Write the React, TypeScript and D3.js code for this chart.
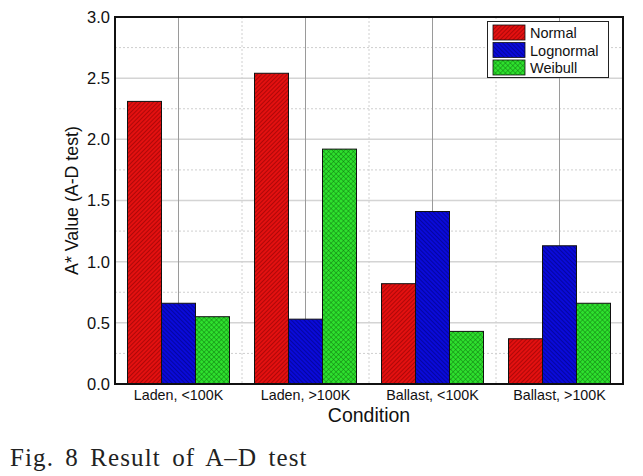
import React from "react";
import * as d3 from "d3";

const categories = ["Laden, <100K", "Laden, >100K", "Ballast, <100K", "Ballast, >100K"];
const seriesNames = ["Normal", "Lognormal", "Weibull"];
const normalValues = [2.31, 2.54, 0.82, 0.37];
const lognormalValues = [0.66, 0.53, 1.41, 1.13];
const weibullValues = [0.55, 1.92, 0.43, 0.66];
const yTicks = [0, 0.5, 1.0, 1.5, 2.0, 2.5, 3.0];
const yMinorTicks = [0.25, 0.75, 1.25, 1.75, 2.25, 2.75];

const W = 643;
const H = 476;
const M = { left: 115, top: 17, right: 623, bottom: 384 };

export default function App() {
  const x = d3.scaleBand<string>().domain(categories).range([M.left, M.right]).paddingInner(0).paddingOuter(0);
  const inner = d3.scaleBand<string>().domain(seriesNames).range([12.5, x.bandwidth() - 12.5]).padding(0);
  const y = d3.scaleLinear().domain([0, 3]).range([M.bottom, M.top]);
  const seriesValues = [normalValues, lognormalValues, weibullValues];
  const fills = ["url(#patNormal)", "url(#patLog)", "url(#patWei)"];
  const font = "Arial, 'Liberation Sans', sans-serif";

  const boundaries = categories.slice(1).map((c) => x(c) as number);

  return (
    <svg width={W} height={H} style={{ position: "absolute", left: 0, top: 0, background: "#fff" }}>
      <defs>
        <pattern id="patNormal" patternUnits="userSpaceOnUse" width={3} height={3} patternTransform="rotate(45)">
          <rect width={3} height={3} fill="#e31010" />
          <line x1={0} y1={0} x2={0} y2={3} stroke="#7a0000" strokeWidth={1} />
        </pattern>
        <pattern id="patLog" patternUnits="userSpaceOnUse" width={3} height={3} patternTransform="rotate(-45)">
          <rect width={3} height={3} fill="#0a0ad8" />
          <line x1={0} y1={0} x2={0} y2={3} stroke="#00006a" strokeWidth={1} />
        </pattern>
        <pattern id="patWei" patternUnits="userSpaceOnUse" width={3.5} height={3.5} patternTransform="rotate(45)">
          <rect width={3.5} height={3.5} fill="#2ee02e" />
          <line x1={0} y1={0} x2={0} y2={3.5} stroke="#0b6a0b" strokeWidth={0.8} />
          <line x1={0} y1={0} x2={3.5} y2={0} stroke="#0b6a0b" strokeWidth={0.8} />
        </pattern>
      </defs>

      {yMinorTicks.map((t) => (
        <line key={"mh" + t} x1={M.left} x2={M.right} y1={y(t)} y2={y(t)} stroke="#cfcfcf" strokeWidth={1} strokeDasharray="2,2" />
      ))}
      {yTicks.slice(1, -1).map((t) => (
        <line key={"h" + t} x1={M.left} x2={M.right} y1={y(t)} y2={y(t)} stroke="#d4d4d4" strokeWidth={1.5} />
      ))}
      {boundaries.map((b) => (
        <line key={"vb" + b} x1={b} x2={b} y1={M.top} y2={M.bottom} stroke="#d0d0d0" strokeWidth={1} strokeDasharray="2,2" />
      ))}
      {categories.map((c) => {
        const cx = (x(c) as number) + x.bandwidth() / 2;
        return <line key={"vc" + c} x1={cx} x2={cx} y1={M.top} y2={M.bottom} stroke="#9a9a9a" strokeWidth={1} />;
      })}

      {categories.map((c, ci) => (
        <g key={"g" + c} transform={`translate(${x(c)},0)`}>
          {seriesNames.map((s, si) => {
            const v = seriesValues[si][ci];
            return (
              <rect
                key={s}
                x={inner(s) as number}
                y={y(v)}
                width={inner.bandwidth()}
                height={y(0) - y(v)}
                fill={fills[si]}
                stroke="#111"
                strokeWidth={1}
              />
            );
          })}
        </g>
      ))}

      <rect x={M.left} y={M.top} width={M.right - M.left} height={M.bottom - M.top} fill="none" stroke="#111" strokeWidth={2} />

      {yTicks.map((t) => (
        <text key={"yt" + t} x={M.left - 5} y={y(t)} dy="0.36em" textAnchor="end" fontFamily={font} fontSize={16.5} fill="#111">
          {d3.format(".1f")(t)}
        </text>
      ))}
      {categories.map((c) => (
        <text key={"xt" + c} x={(x(c) as number) + x.bandwidth() / 2} y={400} textAnchor="middle" fontFamily={font} fontSize={14.3} fill="#111">
          {c}
        </text>
      ))}

      <text x={(M.left + M.right) / 2} y={422} textAnchor="middle" fontFamily={font} fontSize={19.5} fill="#111">
        Condition
      </text>
      <text
        transform={`translate(78,${(M.top + M.bottom) / 2}) rotate(-90)`}
        textAnchor="middle"
        fontFamily={font}
        fontSize={17.8}
        fill="#111"
      >
        A* Value (A-D test)
      </text>

      <g>
        <rect x={487.5} y={21.5} width={121} height={56} fill="#fff" stroke="#222" strokeWidth={1} />
        {seriesNames.map((s, i) => (
          <g key={"lg" + s} transform={`translate(493,${25 + i * 17.5})`}>
            <rect x={0} y={0} width={32} height={15} fill={fills[i]} stroke="#111" strokeWidth={0.8} />
            <text x={37} y={13} fontFamily={font} fontSize={14.5} fill="#111">
              {s}
            </text>
          </g>
        ))}
      </g>

      <text x={10} y={466} fontFamily="'Liberation Serif', 'DejaVu Serif', serif" fontSize={25} fill="#222" letterSpacing={1.1} wordSpacing={4}>
        Fig. 8 Result of A–D test
      </text>
    </svg>
  );
}
